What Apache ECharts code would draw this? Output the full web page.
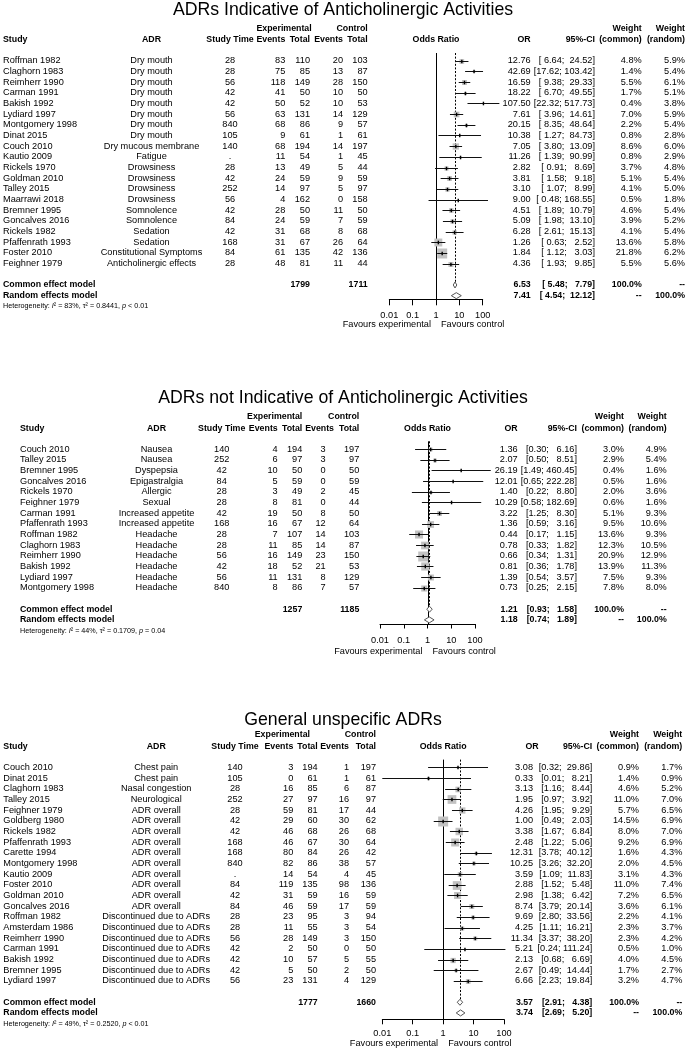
<!DOCTYPE html>
<html><head><meta charset="utf-8">
<script src="https://cdn.jsdelivr.net/npm/echarts@6/dist/echarts.min.js"></script>
<style>html,body{margin:0;padding:0;background:#fff}#c{width:686px;height:1050px}</style>
</head><body><div id="c"></div>
<script>
// ---------------- DATA ----------------
const tickValues = [0.01, 0.1, 1, 10, 100];
const panelTitles = ['ADRs Indicative of Anticholinergic Activities', 'ADRs not Indicative of Anticholinergic Activities', 'General unspecific ADRs'];

// Panel 1
const p1Study = ['Roffman 1982','Claghorn 1983','Reimherr 1990','Carman 1991','Bakish 1992','Lydiard 1997','Montgomery 1998','Dinat 2015','Couch 2010','Kautio 2009','Rickels 1970','Goldman 2010','Talley 2015','Maarrawi 2018','Bremner 1995','Goncalves 2016','Rickels 1982','Pfaffenrath 1993','Foster 2010','Feighner 1979'];
const p1Adr = ['Dry mouth','Dry mouth','Dry mouth','Dry mouth','Dry mouth','Dry mouth','Dry mouth','Dry mouth','Dry mucous membrane','Fatigue','Drowsiness','Drowsiness','Drowsiness','Drowsiness','Somnolence','Somnolence','Sedation','Sedation','Constitutional Symptoms','Anticholinergic effects'];
const p1Time = [28,28,56,42,42,56,840,105,140,null,28,42,252,56,42,84,42,168,84,28];
const p1ExpEv = [83,75,118,41,50,63,68,9,68,11,13,24,14,4,28,24,31,31,61,48];
const p1ExpTot = [110,85,149,50,52,131,86,61,194,54,49,59,97,162,50,59,68,67,135,81];
const p1CtrlEv = [20,13,28,10,10,14,9,1,14,1,5,9,5,0,11,7,8,26,42,11];
const p1CtrlTot = [103,87,150,50,53,129,57,61,197,45,44,59,97,158,50,59,68,64,136,44];
const p1OR = [12.76,42.69,16.59,18.22,107.50,7.61,20.15,10.38,7.05,11.26,2.82,3.81,3.10,9.00,4.51,5.09,6.28,1.26,1.84,4.36];
const p1Lo = [6.64,17.62,9.38,6.70,22.32,3.96,8.35,1.27,3.80,1.39,0.91,1.58,1.07,0.48,1.89,1.98,2.61,0.63,1.12,1.93];
const p1Hi = [24.52,103.42,29.33,49.55,517.73,14.61,48.64,84.73,13.09,90.99,8.69,9.18,8.99,168.55,10.79,13.10,15.13,2.52,3.03,9.85];
const p1WCommon = [4.8,1.4,5.5,1.7,0.4,7.0,2.2,0.8,8.6,0.8,3.7,5.1,4.1,0.5,4.6,3.9,4.1,13.6,21.8,5.5];
const p1WRandom = [5.9,5.4,6.1,5.1,3.8,5.9,5.4,2.8,6.0,2.9,4.8,5.4,5.0,1.8,5.4,5.2,5.4,5.8,6.2,5.6];
const p1Totals = [1799, 1711];
const p1Common = [6.53, 5.48, 7.79];
const p1Random = [7.41, 4.54, 12.12];
const p1Het = ['83%', '0.8441', '< 0.01'];

// Panel 2
const p2Study = ['Couch 2010','Talley 2015','Bremner 1995','Goncalves 2016','Rickels 1970','Feighner 1979','Carman 1991','Pfaffenrath 1993','Roffman 1982','Claghorn 1983','Reimherr 1990','Bakish 1992','Lydiard 1997','Montgomery 1998'];
const p2Adr = ['Nausea','Nausea','Dyspepsia','Epigastralgia','Allergic','Sexual','Increased appetite','Increased appetite','Headache','Headache','Headache','Headache','Headache','Headache'];
const p2Time = [140,252,42,84,28,28,42,168,28,28,56,42,56,840];
const p2ExpEv = [4,6,10,5,3,8,19,16,7,11,16,18,11,8];
const p2ExpTot = [194,97,50,59,49,81,50,67,107,85,149,52,131,86];
const p2CtrlEv = [3,3,0,0,2,0,8,12,14,14,23,21,8,7];
const p2CtrlTot = [197,97,50,59,45,44,50,64,103,87,150,53,129,57];
const p2OR = [1.36,2.07,26.19,12.01,1.40,10.29,3.22,1.36,0.44,0.78,0.66,0.81,1.39,0.73];
const p2Lo = [0.30,0.50,1.49,0.65,0.22,0.58,1.25,0.59,0.17,0.33,0.34,0.36,0.54,0.25];
const p2Hi = [6.16,8.51,460.45,222.28,8.80,182.69,8.30,3.16,1.15,1.82,1.31,1.78,3.57,2.15];
const p2WCommon = [3.0,2.9,0.4,0.5,2.0,0.6,5.1,9.5,13.6,12.3,20.9,13.9,7.5,7.8];
const p2WRandom = [4.9,5.4,1.6,1.6,3.6,1.6,9.3,10.6,9.3,10.5,12.9,11.3,9.3,8.0];
const p2Totals = [1257, 1185];
const p2Common = [1.21, 0.93, 1.58];
const p2Random = [1.18, 0.74, 1.89];
const p2Het = ['44%', '0.1709', '= 0.04'];

// Panel 3
const p3Study = ['Couch 2010','Dinat 2015','Claghorn 1983','Talley 2015','Feighner 1979','Goldberg 1980','Rickels 1982','Pfaffenrath 1993','Carette 1994','Montgomery 1998','Kautio 2009','Foster 2010','Goldman 2010','Goncalves 2016','Roffman 1982','Amsterdam 1986','Reimherr 1990','Carman 1991','Bakish 1992','Bremner 1995','Lydiard 1997'];
const p3Adr = ['Chest pain','Chest pain','Nasal congestion','Neurological','ADR overall','ADR overall','ADR overall','ADR overall','ADR overall','ADR overall','ADR overall','ADR overall','ADR overall','ADR overall','Discontinued due to ADRs','Discontinued due to ADRs','Discontinued due to ADRs','Discontinued due to ADRs','Discontinued due to ADRs','Discontinued due to ADRs','Discontinued due to ADRs'];
const p3Time = [140,105,28,252,28,42,42,168,168,840,null,84,42,84,28,28,56,42,42,42,56];
const p3ExpEv = [3,0,16,27,59,29,46,46,80,82,14,119,31,46,23,11,28,2,10,5,23];
const p3ExpTot = [194,61,85,97,81,60,68,67,84,86,54,135,59,59,95,55,149,50,57,50,131];
const p3CtrlEv = [1,1,6,16,17,30,26,30,26,38,4,98,16,17,3,3,3,0,5,2,4];
const p3CtrlTot = [197,61,87,97,44,62,68,64,42,57,45,136,59,59,94,54,150,50,55,50,129];
const p3OR = [3.08,0.33,3.13,1.95,4.26,1.00,3.38,2.48,12.31,10.25,3.59,2.88,2.98,8.74,9.69,4.25,11.34,5.21,2.13,2.67,6.66];
const p3Lo = [0.32,0.01,1.16,0.97,1.95,0.49,1.67,1.22,3.78,3.26,1.09,1.52,1.38,3.79,2.80,1.11,3.37,0.24,0.68,0.49,2.23];
const p3Hi = [29.86,8.21,8.44,3.92,9.29,2.03,6.84,5.06,40.12,32.20,11.83,5.48,6.42,20.14,33.56,16.21,38.20,111.24,6.69,14.44,19.84];
const p3WCommon = [0.9,1.4,4.6,11.0,5.7,14.5,8.0,9.2,1.6,2.0,3.1,11.0,7.2,3.6,2.2,2.3,2.3,0.5,4.0,1.7,3.2];
const p3WRandom = [1.7,0.9,5.2,7.0,6.5,6.9,7.0,6.9,4.3,4.5,4.3,7.4,6.5,6.1,4.1,3.7,4.2,1.0,4.5,2.7,4.7];
const p3Totals = [1777, 1660];
const p3Common = [3.57, 2.91, 4.38];
const p3Random = [3.74, 2.69, 5.20];
const p3Het = ['49%', '0.2520', '< 0.01'];

// ---------------- LAYOUT ----------------
const FONT = '"Liberation Sans", Arial, Helvetica, sans-serif';
const PITCH = 10.68;
const TOP_ROW = -0.72;
const BODY = 9.2, BOLD = 8.8;
const layouts = [
  {y0:60.7, axisY:299.3, xLeft:389.3, xWidth:93.4, tickLen:6, labelMargin:12, favOff:25, titleY:10,
   cols:{study:3, adr:151.5, time:230, expEv:285.3, expTot:310, expHdr:311.7, ctrlEv:343, ctrlEvHdr:343, ctrlTot:367.7, or:530.7, orHdr:530.7, ci:595, wc:641.7, wr:685}},
  {y0:449, axisY:624, xLeft:380, xWidth:95, tickLen:4.5, labelMargin:12.4, favOff:27.7, titleY:398.3,
   cols:{study:20, adr:156.5, time:221.7, expEv:277.7, expTot:302.3, expHdr:302.3, ctrlEv:325.7, ctrlEvHdr:334, ctrlTot:359.3, or:517.7, orHdr:517.7, ci:577, wc:624, wr:666.7}},
  {y0:767.3, axisY:1019.3, xLeft:382.3, xWidth:121.7, tickLen:5, labelMargin:10.1, favOff:24.4, titleY:719.7,
   cols:{study:3.3, adr:156.2, time:235, expEv:293.3, expTot:317.7, expHdr:310, ctrlEv:349, ctrlEvHdr:349, ctrlTot:376, or:533, orHdr:538.7, ci:592.3, wc:639, wr:682.3}}
];

const panels = [
  {study:p1Study, adr:p1Adr, time:p1Time, expEv:p1ExpEv, expTot:p1ExpTot, ctrlEv:p1CtrlEv, ctrlTot:p1CtrlTot, or:p1OR, lo:p1Lo, hi:p1Hi, wc:p1WCommon, wr:p1WRandom, totals:p1Totals, common:p1Common, random:p1Random, het:p1Het},
  {study:p2Study, adr:p2Adr, time:p2Time, expEv:p2ExpEv, expTot:p2ExpTot, ctrlEv:p2CtrlEv, ctrlTot:p2CtrlTot, or:p2OR, lo:p2Lo, hi:p2Hi, wc:p2WCommon, wr:p2WRandom, totals:p2Totals, common:p2Common, random:p2Random, het:p2Het},
  {study:p3Study, adr:p3Adr, time:p3Time, expEv:p3ExpEv, expTot:p3ExpTot, ctrlEv:p3CtrlEv, ctrlTot:p3CtrlTot, or:p3OR, lo:p3Lo, hi:p3Hi, wc:p3WCommon, wr:p3WRandom, totals:p3Totals, common:p3Common, random:p3Random, het:p3Het}
];

function buildCells(P, L, M) {
  const cells = [];
  const add = (x, row, text, align, opt) => cells.push(Object.assign({x, row, text, align}, opt || {}));
  const c = L.cols;
  const n = P.study.length;
  const hr1 = -3.04, hr2 = -1.94;
  const mid = L.xLeft + L.xWidth / 2;
  const B = {bold:true};
  const wl = Math.max(...P.lo.concat([P.common[1], P.random[1]]).map(v => v.toFixed(2).length));
  const wh = Math.max(...P.hi.concat([P.common[2], P.random[2]]).map(v => v.toFixed(2).length));
  const ci = (lo, hi) => '[' + lo.toFixed(2).padStart(wl) + '; ' + hi.toFixed(2).padStart(wh) + ']';
  add(c.study, hr2, 'Study', 'left', B);
  add(c.adr, hr2, 'ADR', 'center', B);
  add(c.time, hr2, 'Study Time', 'center', B);
  add(c.expEv, hr2, 'Events', 'right', B);
  add(c.expTot, hr2, 'Total', 'right', B);
  add(c.expHdr, hr1, 'Experimental', 'right', B);
  add(c.ctrlEvHdr, hr2, 'Events', 'right', B);
  add(c.ctrlTot, hr2, 'Total', 'right', B);
  add(c.ctrlTot, hr1, 'Control', 'right', B);
  add(mid, hr2, 'Odds Ratio', 'center', B);
  add(c.orHdr, hr2, 'OR', 'right', B);
  add(c.ci, hr2, '95%-CI', 'right', B);
  add(c.wc, hr1, 'Weight', 'right', B);
  add(c.wc, hr2, '(common)', 'right', B);
  add(c.wr, hr1, 'Weight', 'right', B);
  add(c.wr, hr2, '(random)', 'right', B);
  for (let i = 0; i < n; i++) {
    add(c.study, i, P.study[i], 'left');
    add(c.adr, i, P.adr[i], 'center');
    add(c.time, i, P.time[i] == null ? '.' : String(P.time[i]), 'center');
    add(c.expEv, i, String(P.expEv[i]), 'right');
    add(c.expTot, i, String(P.expTot[i]), 'right');
    add(c.ctrlEv, i, String(P.ctrlEv[i]), 'right');
    add(c.ctrlTot, i, String(P.ctrlTot[i]), 'right');
    add(c.or, i, P.or[i].toFixed(2), 'right');
    add(c.ci, i, ci(P.lo[i], P.hi[i]), 'right');
    add(c.wc, i, P.wc[i].toFixed(1) + '%', 'right');
    add(c.wr, i, P.wr[i].toFixed(1) + '%', 'right');
  }
  const r1 = n + 1, r2 = n + 2, r3 = n + 3;
  add(c.study, r1, 'Common effect model', 'left', B);
  add(c.expTot, r1, String(P.totals[0]), 'right', B);
  add(c.ctrlTot, r1, String(P.totals[1]), 'right', B);
  add(c.or, r1, P.common[0].toFixed(2), 'right', B);
  add(c.ci, r1, ci(P.common[1], P.common[2]), 'right', B);
  add(c.wc, r1, '100.0%', 'right', B);
  add(c.wr, r1, '--', 'right', B);
  add(c.study, r2, 'Random effects model', 'left', B);
  add(c.or, r2, P.random[0].toFixed(2), 'right', B);
  add(c.ci, r2, ci(P.random[1], P.random[2]), 'right', B);
  add(c.wc, r2, '--', 'right', B);
  add(c.wr, r2, '100.0%', 'right', B);
  add(c.study, r3, '{n|Heterogeneity: }{i|I}{n|² = ' + P.het[0] + ', τ² = ' + P.het[1] + ', }{i|p}{n| ' + P.het[2] + '}', 'left', {size:7.2, rich:true});
  const favRow = M + L.favOff / PITCH;
  add(mid - 5, favRow, 'Favours experimental', 'right');
  add(mid + 5, favRow, 'Favours control', 'left');
  return cells;
}

const option = {
  animation: false,
  backgroundColor: '#fff',
  title: [], grid: [], xAxis: [], yAxis: [], series: []
};

panels.forEach((P, k) => {
  const L = layouts[k];
  const n = P.study.length;
  const top = L.y0 + TOP_ROW * PITCH;
  const height = L.axisY - top;
  const M = TOP_ROW + height / PITCH;
  const gF = 2 * k, gT = 2 * k + 1;
  option.title.push({
    text: panelTitles[k], left: 'center', top: L.titleY - 9, padding: 0,
    textStyle: {fontFamily: FONT, fontSize: 17.7, fontWeight: 'normal', color: '#000', lineHeight: 18}
  });
  option.grid.push({left: L.xLeft, top: top, width: L.xWidth, height: height, outerBoundsMode: 'none', containLabel: false});
  option.grid.push({left: 0, top: top, width: 686, height: height, outerBoundsMode: 'none', containLabel: false});
  option.xAxis.push({
    type: 'log', logBase: 10, gridIndex: gF, min: tickValues[0], max: tickValues[tickValues.length - 1],
    position: 'bottom',
    axisLine: {show: true, onZero: false, lineStyle: {color: '#000', width: 1}},
    axisTick: {show: true, length: L.tickLen, inside: false, lineStyle: {color: '#000', width: 1}},
    minorTick: {show: false}, splitLine: {show: false},
    axisLabel: {show: true, color: '#000', fontFamily: FONT, fontSize: 9.2, margin: L.labelMargin, hideOverlap: false,
      formatter: v => String(+(+v).toPrecision(6))}
  });
  option.xAxis.push({type: 'value', gridIndex: gT, min: 0, max: 686, show: false, axisLine: {onZero: false}});
  option.yAxis.push({type: 'value', gridIndex: gF, min: TOP_ROW, max: M, inverse: true, show: false, axisLine: {onZero: false}});
  option.yAxis.push({type: 'value', gridIndex: gT, min: TOP_ROW, max: M, inverse: true, show: false, axisLine: {onZero: false}});

  const maxW = Math.max(...P.wc);
  // reference lines: solid at OR = 1, dashed at common-effect estimate
  option.series.push({
    type: 'custom', xAxisIndex: gF, yAxisIndex: gF, clip: false, silent: true,
    data: [[1, TOP_ROW, M], [P.common[0], TOP_ROW, n + 1 - 0.3]],
    encode: {x: 0, y: [1, 2]},
    renderItem: (params, api) => {
      const a = api.coord([api.value(0), api.value(1)]);
      const b = api.coord([api.value(0), api.value(2)]);
      const x = Math.round(a[0]) + 0.5;
      return {type: 'line', shape: {x1: x, y1: a[1], x2: x, y2: b[1]},
        style: {stroke: '#000', lineWidth: 1, lineDash: params.dataIndex === 1 ? [2, 1.6] : null}};
    }
  });
  // studies
  option.series.push({
    type: 'custom', xAxisIndex: gF, yAxisIndex: gF, clip: false, silent: true,
    data: P.or.map((v, i) => [v, i, P.lo[i], P.hi[i], P.wc[i]]),
    encode: {x: [0, 2, 3], y: 1},
    renderItem: (params, api) => {
      const row = api.value(1);
      const pc = api.coord([api.value(0), row]);
      const pl = api.coord([api.value(2), row]);
      const ph = api.coord([api.value(3), row]);
      const y = Math.round(pc[1]) + 0.5;
      const s = 10 * Math.sqrt(api.value(4) / maxW);
      return {type: 'group', children: [
        {type: 'rect', shape: {x: pc[0] - s / 2, y: y - s / 2, width: s, height: s}, style: {fill: '#c2c2c2'}},
        {type: 'line', shape: {x1: pl[0], y1: y, x2: ph[0], y2: y}, style: {stroke: '#111', lineWidth: 1}},
        {type: 'rect', shape: {x: pc[0] - 0.7, y: y - 1.8, width: 1.4, height: 3.6}, style: {fill: '#000'}}
      ]};
    }
  });
  // pooled diamonds
  option.series.push({
    type: 'custom', xAxisIndex: gF, yAxisIndex: gF, clip: false, silent: true,
    data: [[P.common[0], n + 1, P.common[1], P.common[2]], [P.random[0], n + 2, P.random[1], P.random[2]]],
    encode: {x: [0, 2, 3], y: 1},
    renderItem: (params, api) => {
      const row = api.value(1);
      const pc = api.coord([api.value(0), row]);
      const pl = api.coord([api.value(2), row]);
      const ph = api.coord([api.value(3), row]);
      const h = 3;
      return {type: 'polygon', shape: {points: [[pl[0], pc[1]], [pc[0], pc[1] - h], [ph[0], pc[1]], [pc[0], pc[1] + h]]},
        style: {fill: '#fff', stroke: '#555', lineWidth: 1}};
    }
  });
  // table text
  const cells = buildCells(P, L, M);
  option.series.push({
    type: 'custom', xAxisIndex: gT, yAxisIndex: gT, clip: false, silent: true,
    data: cells.map(c => [c.x, c.row]),
    encode: {x: 0, y: 1},
    renderItem: (params, api) => {
      const c = cells[params.dataIndex];
      const p = api.coord([api.value(0), api.value(1)]);
      const size = c.size || (c.bold ? BOLD : BODY);
      const st = {
        text: c.text, x: p[0], y: p[1], fill: '#000',
        font: (c.bold ? 'bold ' : '') + size + 'px ' + FONT,
        textAlign: c.align, textVerticalAlign: 'middle', align: c.align, verticalAlign: 'middle'
      };
      if (c.rich) {
        st.rich = {
          n: {fontFamily: FONT, fontSize: size, fill: '#000', color: '#000'},
          i: {fontFamily: FONT, fontSize: size, fontStyle: 'italic', fill: '#000', color: '#000'}
        };
      }
      return {type: 'text', style: st};
    }
  });
});

const chart = echarts.init(document.getElementById('c'), null, {renderer: 'canvas'});
chart.setOption(option);
</script>
</body></html>
